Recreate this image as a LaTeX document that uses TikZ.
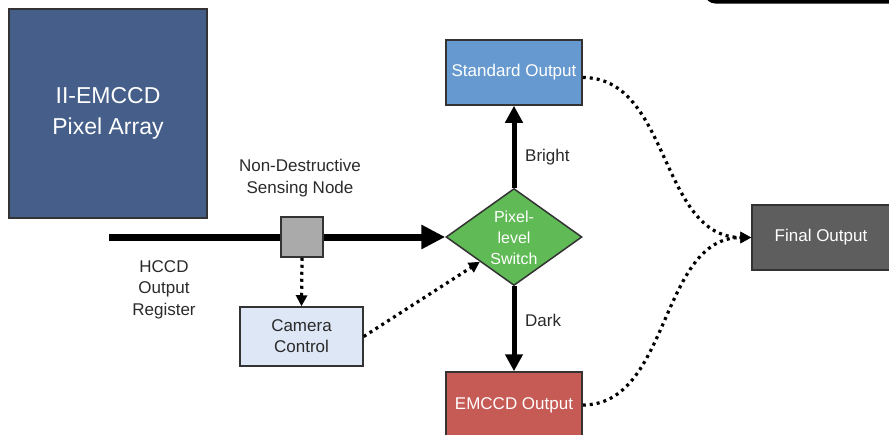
\documentclass[tikz,border=0pt]{standalone}
\usepackage{fontspec}
\setmainfont{Liberation Sans}
\usetikzlibrary{shapes.geometric,arrows.meta,calc}
\definecolor{arrayblue}{HTML}{455F8A}
\definecolor{stdblue}{HTML}{6699CF}
\definecolor{swgreen}{HTML}{60BA55}
\definecolor{emred}{HTML}{C65A55}
\definecolor{finalgray}{HTML}{5E5E5E}
\definecolor{camblue}{HTML}{DEE7F6}
\definecolor{nodegray}{HTML}{AAAAAA}
\definecolor{edgegray}{HTML}{333333}
\definecolor{labelgray}{HTML}{2A2A2A}
\begin{document}
\begin{tikzpicture}[x=1pt,y=-1pt,
  box/.style={draw=edgegray, line width=1.5pt, inner sep=0pt, align=center,
    text=white, font=\fontsize{17}{21}\selectfont},
  lbl/.style={text=labelgray, align=center, inner sep=0pt, font=\fontsize{17}{21.5}\selectfont},
  thickline/.style={line width=7pt, black},
  thickarrow/.style={line width=7pt, black, -{Triangle[length=24pt,width=23pt]}},
  vertarrow/.style={line width=5pt, black, -{Triangle[length=17pt,width=17pt]}},
  dotarrow/.style={line width=3.2pt, black, dash pattern=on 3pt off 4pt,
    -{Triangle[length=11pt,width=11pt]}}
]
\useasboundingbox (0,0) rectangle (889,434);
\begin{scope}
\clip (0,0) rectangle (889,434);
% partial dark shape at the top right
\fill[black, rounded corners=10pt] (705,-30) rectangle (900,3.5);

% nodes
\node[box, fill=arrayblue, minimum width=198pt, minimum height=209pt,
  font=\fontsize{23}{31}\selectfont] (pa) at (108,113.5) {II-EMCCD\\Pixel Array};
\node[draw=edgegray, line width=1.5pt, fill=swgreen, shape=diamond, inner sep=0pt,
  minimum width=136pt, minimum height=97pt] (sw) at (514,237) {};
\node[text=white, align=center, inner sep=0pt, font=\fontsize{16}{21}\selectfont]
  (swt) at (514,238) {Pixel-\\level\\Switch};
\coordinate (hstart) at (109,237);
\node[draw=edgegray, line width=1.5pt, fill=nodegray, minimum width=42pt,
  minimum height=40pt, inner sep=0pt] (sn) at (302,237) {};
\node[box, fill=camblue, text=labelgray, minimum width=123pt, minimum height=59pt]
  (cc) at (301.5,336.5) {Camera\\Control};
\node[box, fill=stdblue, minimum width=136pt, minimum height=65pt] (so) at (514,72.5) {Standard Output};
\node[box, fill=emred, minimum width=136pt, minimum height=66pt] (em) at (514,405) {EMCCD Output};
\node[box, fill=finalgray, minimum width=138pt, minimum height=65pt] (fo) at (821,237.5) {Final Output};

% labels
\node[lbl] (ndl) at (300,178) {Non-Destructive\\Sensing Node};
\node[lbl] (hcl) at (164,289.5) {HCCD\\Output\\Register};
\node[lbl, anchor=west] (brl) at (525,157) {Bright};
\node[lbl, anchor=west] (dkl) at (525,320) {Dark};

% connectors
\draw[thickline] (hstart) -- (sn.west);
\draw[thickarrow] (sn.east) -- (sw.west);
\draw[vertarrow] (sw.north) -- (so.south);
\draw[vertarrow] (sw.south) -- (em.north);
\draw[dotarrow] (sn.south) -- (cc.north);
\draw[dotarrow] (cc.east) -- (sw.216);
\draw[dotarrow] ([yshift=-5pt]so.east) .. controls +(88,0) and +(-92,0) .. (fo.west);
\draw[dotarrow] (em.east) .. controls +(88,0) and +(-92,0) .. (fo.west);
\end{scope}
\end{tikzpicture}
\end{document}
